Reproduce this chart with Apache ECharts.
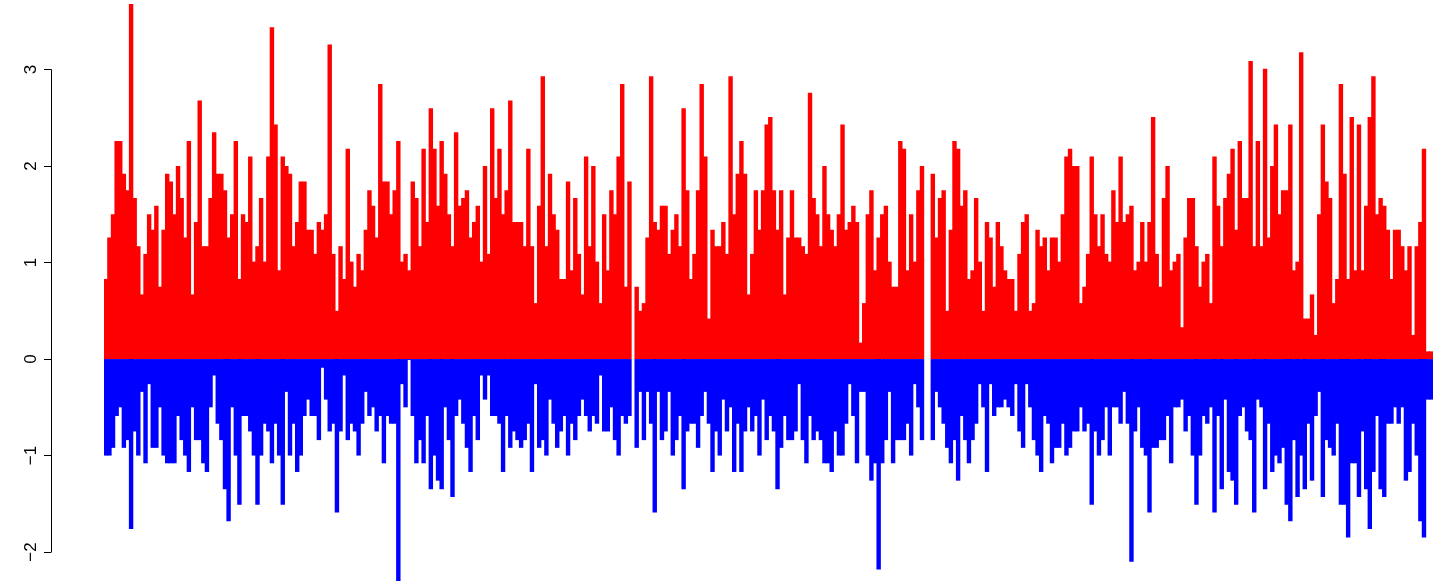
<!DOCTYPE html>
<html><head><meta charset="utf-8">
<script src="https://cdn.jsdelivr.net/npm/echarts@6/dist/echarts.min.js"></script>
<style>html,body{margin:0;padding:0;background:#fff}#c{width:1444px;height:581px}</style>
</head><body><div id="c"></div>
<script>
const redValues = [
0.83,1.26,1.50,2.26,2.26,1.92,1.75,3.68,1.67,1.17,0.67,1.09,1.50,1.34,1.59,0.75,1.34,1.92,1.84,1.50,2.00,1.67,1.26,2.26,0.67,1.42,2.68,1.17,1.17,1.67,
2.35,1.92,1.92,1.75,1.26,1.50,2.26,0.83,1.50,1.42,2.10,1.01,1.17,1.67,1.01,2.10,3.44,2.43,0.92,2.10,2.00,1.92,1.17,1.42,1.84,1.84,1.34,1.34,1.09,1.42,1.34,
1.50,3.26,1.09,0.50,1.17,0.83,2.18,1.01,0.75,1.09,0.92,1.34,1.75,1.59,1.26,2.85,1.84,1.84,1.50,1.75,2.26,1.01,1.09,0.92,1.84,1.67,1.17,2.18,1.42,2.60,
2.18,1.59,2.26,1.92,1.50,1.17,2.35,1.59,1.67,1.75,1.26,1.42,1.59,1.01,2.00,1.09,2.60,1.67,2.18,1.50,1.75,2.68,1.42,1.42,1.42,1.17,2.18,1.17,0.58,1.59,2.93,
1.17,1.92,1.50,1.34,0.83,0.83,1.84,0.92,1.67,1.09,0.67,2.10,1.17,2.00,1.01,0.58,1.50,0.92,1.75,1.50,2.10,2.85,0.75,1.84,0,0.75,0.50,0.58,1.26,2.93,
1.42,1.34,1.59,1.59,1.09,1.34,1.50,1.17,2.60,1.75,0.83,1.09,1.75,2.85,2.10,0.42,1.34,1.17,1.17,1.42,1.09,2.93,1.50,1.92,2.26,1.92,0.67,1.09,1.75,1.34,1.75,
2.43,2.51,1.75,1.34,1.75,0.67,1.26,1.75,1.26,1.26,1.17,1.09,2.76,1.67,1.50,1.17,2.00,1.50,1.34,1.17,1.50,2.43,1.34,1.42,1.59,1.42,0.17,0.58,1.50,1.75,
0.92,1.26,1.50,1.59,1.01,0.75,0.75,2.26,2.18,0.92,1.50,1.01,1.75,2.00,0,0,1.92,1.26,1.67,1.75,0.50,1.34,2.26,2.18,1.59,1.75,0.83,0.92,1.67,1.01,0.50,
1.42,1.26,0.75,1.42,1.17,0.92,0.83,0.83,0.50,1.09,1.42,1.50,0.50,0.58,1.34,1.17,1.26,0.92,1.26,1.26,1.01,1.50,2.10,2.18,2.00,2.00,0.58,0.75,1.09,2.10,
1.50,1.17,1.50,1.09,1.01,1.75,1.42,2.10,1.42,1.50,1.59,0.92,1.01,1.42,1.01,1.42,2.51,1.09,0.75,1.67,2.00,0.92,1.01,1.09,0.33,1.26,1.67,1.67,1.17,0.75,1.01,
1.09,0.58,2.10,1.59,1.17,1.67,1.92,2.18,1.34,2.26,1.67,1.67,3.09,1.17,2.26,1.17,3.01,1.26,2.00,2.43,1.50,1.75,1.75,2.43,0.92,1.01,3.18,0.42,0.42,0.67,
0.25,1.50,2.43,1.84,1.67,0.58,0.83,2.85,1.92,0.83,2.51,0.92,2.43,0.92,1.59,2.51,2.93,1.50,1.67,1.59,1.34,0.83,1.34,1.34,1.17,0.92,1.17,0.25,1.17,1.42,2.18,0.08,0.08
];
const blueValues = [
-1.00,-1.00,-0.92,-0.59,-0.50,-0.92,-0.84,-1.76,-0.75,-1.00,-0.34,-1.08,-0.26,-0.92,-0.92,-0.50,-1.00,-1.08,-1.08,-1.08,-0.59,-0.84,-1.00,-1.17,-0.50,-0.84,-0.84,-1.08,-1.17,-0.50,
-0.17,-0.67,-0.84,-1.35,-1.68,-0.50,-1.00,-1.51,-0.59,-0.59,-0.75,-1.00,-1.51,-1.00,-0.67,-0.75,-1.08,-0.67,-1.00,-1.51,-0.34,-1.00,-0.67,-1.17,-1.00,-0.59,-0.42,-0.59,-0.59,-0.84,-0.09,
-0.42,-0.75,-0.67,-1.59,-0.75,-0.17,-0.84,-0.67,-0.75,-1.00,-0.67,-0.34,-0.59,-0.50,-0.75,-0.59,-1.08,-0.59,-0.67,-0.67,-2.30,-0.26,-0.50,-0.01,-0.59,-1.08,-0.84,-1.08,-0.59,-1.35,
-1.00,-1.26,-1.35,-0.50,-0.84,-1.43,-0.59,-0.42,-0.67,-0.92,-1.17,-0.59,-0.84,-0.17,-0.42,-0.17,-0.59,-0.59,-0.67,-1.17,-0.59,-0.92,-0.75,-0.84,-0.92,-0.84,-0.67,-1.17,-0.26,-0.92,-0.84,
-1.00,-0.42,-0.67,-0.92,-0.75,-0.59,-1.00,-0.67,-0.84,-0.59,-0.42,-0.59,-0.75,-0.59,-0.67,-0.17,-0.75,-0.75,-0.50,-0.84,-1.00,-0.59,-0.67,-0.59,0,-0.92,-0.34,-0.84,-0.34,-0.67,
-1.59,-0.34,-0.84,-0.75,-0.34,-1.00,-0.84,-0.59,-1.35,-0.75,-0.67,-0.67,-0.92,-0.59,-0.34,-0.67,-1.17,-0.75,-1.00,-0.42,-0.75,-0.50,-1.17,-0.67,-1.17,-0.75,-0.50,-0.75,-0.59,-1.00,-0.42,
-0.84,-0.59,-0.75,-1.35,-0.92,-0.59,-0.84,-0.84,-0.75,-0.26,-0.84,-1.08,-0.59,-0.84,-0.75,-0.84,-1.08,-1.08,-1.17,-0.75,-1.00,-1.00,-0.67,-0.26,-0.59,-1.08,-0.34,-0.34,-1.00,-1.26,
-1.08,-2.18,-1.08,-0.84,-0.34,-1.08,-0.84,-0.84,-0.84,-0.67,-1.00,-0.26,-0.50,-0.84,0,0,-0.84,-0.34,-0.50,-0.67,-0.92,-1.08,-0.84,-1.26,-0.59,-0.84,-1.08,-0.84,-0.67,-0.26,-0.50,
-1.17,-0.26,-0.59,-0.50,-0.50,-0.42,-0.50,-0.59,-0.26,-0.75,-0.92,-0.26,-0.50,-0.84,-1.00,-1.17,-0.59,-0.67,-1.08,-0.92,-0.92,-0.67,-1.00,-0.92,-0.75,-0.75,-0.50,-0.75,-0.67,-1.51,
-0.75,-1.00,-0.84,-0.50,-1.00,-0.50,-0.50,-0.67,-0.34,-0.67,-2.10,-0.75,-0.50,-0.92,-1.00,-1.59,-0.92,-0.92,-0.84,-0.84,-0.59,-1.08,-0.50,-0.50,-0.42,-0.75,-0.59,-1.00,-1.51,-1.00,-0.59,
-0.67,-0.50,-1.59,-0.59,-1.35,-0.42,-1.17,-1.26,-1.51,-0.59,-0.50,-0.75,-0.84,-1.59,-0.42,-0.50,-1.35,-0.67,-1.17,-1.00,-1.08,-0.92,-1.51,-1.68,-0.84,-1.43,-1.00,-1.35,-0.67,-1.26,
-0.59,-0.34,-1.43,-0.84,-0.92,-1.00,-0.67,-1.51,-1.51,-1.85,-1.08,-1.08,-1.43,-0.75,-1.35,-1.76,-1.17,-0.59,-1.35,-1.43,-0.67,-0.67,-0.50,-0.67,-0.50,-1.26,-1.17,-0.67,-1.00,-1.68,-1.85,-0.42,-0.42
];
const yTickValues = [-2, -1, 0, 1, 2, 3];
const yTickLabels = ['\u22122', '\u22121', '0', '1', '2', '3'];
const categories = redValues.map((_, i) => String(i + 1));

const W = 1444, H = 581;
const PLOT_LEFT = 104, PLOT_RIGHT = 11, PLOT_TOP = 4, PLOT_BOTTOM = 0;
const Y_MIN = -2.3, Y_MAX = 3.68;
const ppu = (H - PLOT_TOP - PLOT_BOTTOM) / (Y_MAX - Y_MIN);
const tMin = yTickValues[0], tMax = yTickValues[yTickValues.length - 1];
const AXIS_X = 51;
const catW = (W - PLOT_LEFT - PLOT_RIGHT) / categories.length;
const BAR_W = catW + 0.8;

const chart = echarts.init(document.getElementById('c'), null, {renderer: 'canvas'});
chart.setOption({
  animation: false,
  backgroundColor: '#ffffff',
  grid: [
    {left: PLOT_LEFT, right: PLOT_RIGHT, top: PLOT_TOP, bottom: PLOT_BOTTOM, containLabel: false},
    {left: AXIS_X, width: 1, top: PLOT_TOP + (Y_MAX - tMax) * ppu, bottom: PLOT_BOTTOM + (tMin - Y_MIN) * ppu, containLabel: false}
  ],
  xAxis: [
    {type: 'category', gridIndex: 0, data: categories, show: false, boundaryGap: true},
    {type: 'value', gridIndex: 1, show: false, min: 0, max: 1}
  ],
  yAxis: [
    {type: 'value', gridIndex: 0, min: Y_MIN, max: Y_MAX, show: false},
    {type: 'value', gridIndex: 1, min: tMin, max: tMax, interval: 1, position: 'left',
     splitLine: {show: false},
     axisLine: {show: true, lineStyle: {color: '#000', width: 1}},
     axisTick: {show: true, length: 7, lineStyle: {color: '#000', width: 1}},
     axisLabel: {show: true, rotate: 90, margin: 11, fontSize: 17, color: '#000',
       fontFamily: 'Liberation Sans, Arial, sans-serif',
       formatter: function (v) { const i = yTickValues.indexOf(v); return i >= 0 ? yTickLabels[i] : ''; }}}
  ],
  series: [
    {type: 'bar', name: 'up', xAxisIndex: 0, yAxisIndex: 0, data: redValues,
     barWidth: BAR_W, barGap: '-100%', itemStyle: {color: '#ff0000'}, silent: true},
    {type: 'bar', name: 'down', xAxisIndex: 0, yAxisIndex: 0, data: blueValues,
     barWidth: BAR_W, barGap: '-100%', itemStyle: {color: '#0000ff'}, silent: true}
  ]
});
</script>
</body></html>
